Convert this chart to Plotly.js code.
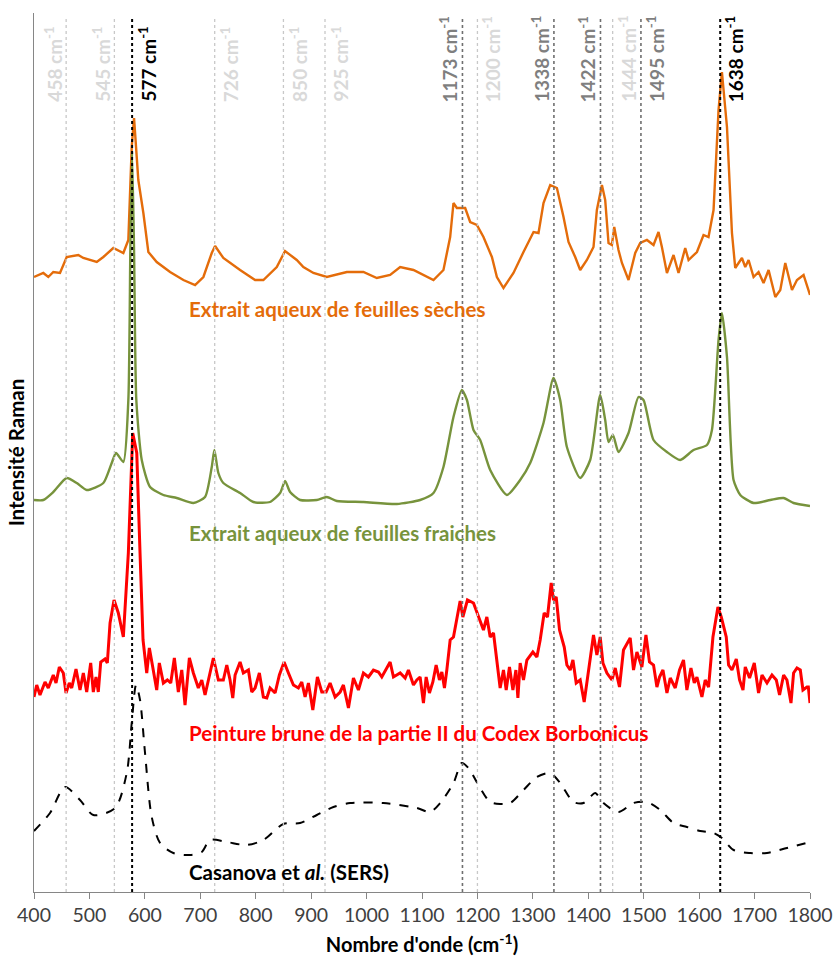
<!DOCTYPE html>
<html>
<head>
<meta charset="utf-8">
<script src="https://cdn.plot.ly/plotly-3.0.1.min.js"></script>
<style>html,body{margin:0;padding:0;background:#fff;}#chart{width:837px;height:962px;}</style>
</head>
<body>
<div id="chart"></div>
<script>
// Spectrum: aqueous extract of dried leaves (offset, arbitrary units)
var dryX = [400,416.8,425.8,434.8,446.9,459,479.9,489,513.2,525.1,543.1,561.2,570.2,576.3,580.5,588.2,597.3,606.3,621.4,645.5,669.5,690.6,705.6,720.7,726.7,741.6,771.8,798.9,813.8,838,852.9,874,886,904.1,928.3,964.4,994.3,1018.5,1042.5,1060.6,1084.6,1100,1120.7,1138.7,1150.8,1156.8,1162.9,1177.9,1186.9,1199,1210.9,1226.1,1235.1,1247,1265,1283.1,1301.2,1310.2,1319.2,1331.3,1343.4,1355.3,1364.3,1376.4,1385.4,1397.5,1409.4,1415.5,1424.6,1430.5,1436.5,1442.6,1446.8,1454.5,1460.7,1472.6,1484.7,1493.7,1505.8,1517.7,1526.7,1532.8,1541.9,1553.8,1562.8,1574.9,1580.9,1596,1607.9,1616.9,1626,1635,1641.1,1650.2,1659.2,1665.1,1677.2,1683.2,1689.2,1698.2,1707.2,1716.2,1725.3,1737.4,1746.4,1755.4,1767.5,1776.5,1788.4,1800];
var dryY = [615,619,615,620,619,635,637,634,630,635,644,639,652,745,774,712,679,640,630,620,612,607,615,639,646,634,622,612,612,625,641,632,625,619,615,620,620,614,617,625,622,618,612,622,655,689,684,684,670,667,655,635,615,604,619,640,660,659,689,707,704,675,650,635,622,632,645,682,707,692,649,647,665,642,629,612,639,649,652,647,660,645,619,637,619,644,632,640,657,655,682,782,820,765,659,624,634,625,632,615,620,609,622,595,602,629,602,612,617,597];

// Spectrum: aqueous extract of fresh leaves
var freshX = [400,416.8,434.8,459,477.1,495.1,525.1,540.2,548,561.2,570.2,573.8,576.9,580.5,584.6,594.4,609.4,633.4,657.5,687.5,708.6,720.7,725.4,732.6,741.6,771.8,795.8,825.9,844,853,862,880.1,910.2,928.3,946.3,994.3,1054.6,1096.6,1120.7,1138.7,1156.8,1171.9,1181,1192.9,1205,1223,1253.1,1277.1,1295.2,1319.2,1337.2,1349.3,1361.4,1385.4,1403.4,1421.5,1430.5,1436.5,1444.4,1454.5,1472.6,1490.6,1499.6,1517.7,1541.9,1565.9,1589.9,1614.1,1623.1,1635,1641.1,1650.2,1662.1,1674.2,1698.2,1728.3,1752.3,1770.4,1800];
var freshY = [392,392,400,414,409,402,409,429,439,430,492,642,740,642,492,432,405,397,394,389,395,425,442,419,409,399,390,390,399,411,400,392,392,395,391,390,388,392,399,425,475,502,492,462,452,422,397,412,429,469,514,492,445,414,432,497,472,450,457,440,459,495,492,452,440,432,442,447,462,552,579,535,412,397,389,392,394,389,386];

// Spectrum: brown paint, part II of the Codex Borbonicus
var codexX = [400,404.9,410.8,419.9,425.8,434.8,439.7,445.7,452.9,457.8,463.7,468,475.8,483,489,495.1,502.3,507,511.9,516,520.4,528.1,532.3,537.2,544.4,552.1,561.2,570.2,578.1,585.4,591.3,596.7,603.4,608.1,614.2,621.4,626.1,633.4,640.6,646.7,653.2,660.4,666.6,672.5,680.3,687.5,696.5,702.7,708.6,714.6,723.6,732.6,741.6,747.8,753.7,758.6,762.8,771.8,777.7,786.8,792.9,798.9,806.6,813.8,820,825.9,835,842.7,851.2,859,868,877,883.1,889.1,895.1,903,911.3,919.2,927,934.2,943.2,952.3,958.2,967.3,976.3,985.3,994.3,1003.3,1012.4,1021.4,1027.5,1042.5,1048.5,1060.6,1069.6,1075.5,1084.6,1090.7,1096.6,1102.6,1107.5,1113.4,1119.6,1125.5,1131.5,1135.8,1140.5,1144.8,1150.8,1156.8,1162.9,1168.8,1173.7,1182,1192.9,1201.9,1210.9,1217,1223,1229,1235.1,1241,1247,1251.9,1257.8,1264,1269.4,1273,1277.1,1283.1,1289.2,1300,1307.3,1313.2,1320.4,1326.4,1333.1,1337.2,1342.1,1348.1,1356.6,1361.4,1367.4,1372.3,1378.2,1385.4,1392.6,1400.4,1409.4,1415.5,1421.5,1426.4,1433.6,1442.6,1448.6,1456.3,1463.5,1475.6,1481.6,1487.7,1496.7,1504,1510.4,1517.7,1523.8,1528.5,1534.7,1541.9,1547.9,1556.9,1564.6,1571.8,1577.9,1585.2,1591.2,1596,1605,1611,1617,1624.9,1633.9,1639.9,1648.9,1653.1,1659.2,1667,1672.9,1679.1,1683.2,1691,1699.5,1707.2,1713.4,1722.4,1731.4,1739.2,1745.1,1752.4,1758.4,1765.7,1770.4,1776.5,1782.5,1787.3,1794.6,1797,1800];
var codexY = [195,207,197,210,204,217,209,225,219,199,209,204,223,202,219,200,229,200,215,200,230,233,229,269,292,279,255,339,459,439,339,252,219,244,225,202,229,209,212,209,234,200,222,187,234,219,204,212,197,212,234,212,212,227,212,194,217,230,219,222,200,204,219,195,194,204,199,217,230,219,207,204,210,195,209,182,215,200,200,209,195,200,207,184,214,202,219,215,222,220,215,230,215,219,214,222,207,212,215,189,215,199,210,227,212,220,204,222,252,255,272,291,275,292,289,275,262,275,255,259,229,204,222,202,225,202,222,194,229,212,232,240,235,252,279,275,309,292,295,262,245,227,222,232,209,212,190,219,257,237,255,229,219,212,224,205,242,254,222,240,225,257,230,227,205,215,222,199,214,204,222,232,202,224,209,215,195,212,205,255,285,275,255,227,222,233,212,202,225,214,229,199,217,209,217,212,197,217,212,189,219,224,222,202,205,205,189];

// Reference spectrum: Casanova et al. (SERS)
var sersX = [400,428.9,455.9,483,507,546.2,567.3,576.3,584.1,591.3,600.3,612.4,627.4,651.4,681.5,702.7,717.6,747.8,783.9,813.8,849.9,880.1,910.2,940.2,970.3,1030.4,1090.7,1114.7,1132.8,1156.8,1171.9,1183.8,1201.8,1223,1241,1259.1,1283.1,1307.3,1331.3,1349.3,1373.3,1391.4,1403.4,1412.5,1427.4,1454.5,1481.6,1505.8,1529.8,1553.8,1577.9,1602,1626,1641.1,1662.1,1692.2,1722.3,1758.4,1800];
var sersY = [61,79,105,92,77,84,119,169,207,192,139,75,49,39,37,40,52,50,47,52,68,69,77,85,89,89,84,80,89,109,129,124,107,90,88,89,102,115,119,109,90,89,95,99,89,80,89,90,82,69,65,61,59,54,42,39,39,44,50];

// Band markers (cm-1), emphasis level and label side
var bandPos   = [458, 545, 577, 726, 850, 925, 1173, 1200, 1338, 1422, 1444, 1495, 1638];
var bandLevel = ['light','light','strong','light','light','light','mid','light','mid','mid','light','mid','strong'];
var bandSide  = ['left','left','right','right','right','right','left','right','left','left','right','right','right'];

var seriesNames = ['Extrait aqueux de feuilles sèches','Extrait aqueux de feuilles fraiches','Peinture brune de la partie II du Codex Borbonicus','Casanova et <i>al.</i> (SERS)'];

var FONT = 'Lato, "Open Sans", sans-serif';
var levelStyle = {
  light:  {color:'#d9d9d9', line:'#c8c8c8', width:1.3},
  mid:    {color:'#7f7f7f', line:'#6f6f6f', width:1.6},
  strong: {color:'#000000', line:'#000000', width:2}
};

var traces = [
  {x: dryX, y: dryY, mode:'lines', line:{color:'#E46C0A', width:2.4}, name:seriesNames[0]},
  {x: freshX, y: freshY, mode:'lines', line:{color:'#77933C', width:2.4, shape:'spline', smoothing:0.6}, name:seriesNames[1]},
  {x: codexX, y: codexY, mode:'lines', line:{color:'#FF0000', width:3}, name:seriesNames[2]},
  {x: sersX, y: sersY, mode:'lines', line:{color:'#000000', width:2, dash:'dash', shape:'spline', smoothing:0.8}, name:seriesNames[3]}
];

var shapes = [];
var annotations = [];
bandPos.forEach(function(b, i){
  var st = levelStyle[bandLevel[i]];
  shapes.push({type:'line', xref:'x', yref:'paper', x0:b, x1:b, y0:0, y1:0.9954,
    line:{color:st.line, width:st.width, dash:'dot'}, layer:'above'});
  annotations.push({xref:'x', yref:'paper', x:b, y:0.8965, yanchor:'bottom', xanchor:'center',
    xshift: bandSide[i]==='right' ? 15 : -13, textangle:-90, showarrow:false,
    text: '<b>' + b + ' cm<sup>-1</sup></b>', font:{family:FONT, size:19, color:st.color}});
});

// Series labels (positioned in data space)
var labelY = [583, 359, 159, 20];
var labelColors = ['#E46C0A','#77933C','#FF0000','#000000'];
seriesNames.forEach(function(n, i){
  annotations.push({xref:'x', yref:'y', x:676, y:labelY[i], xanchor:'left', yanchor:'middle', showarrow:false,
    text:'<b>'+n+'</b>', font:{family:FONT, size:20.5, color:labelColors[i]}});
});

var layout = {
  width:837, height:962,
  margin:{l:34, r:27, t:13, b:70},
  paper_bgcolor:'#ffffff', plot_bgcolor:'#ffffff',
  showlegend:false,
  font:{family:FONT, color:'#404040'},
  xaxis:{range:[400,1800], dtick:100, tick0:400, ticks:'outside', ticklen:6, tickcolor:'#868686',
    showline:true, linecolor:'#868686', linewidth:1, showgrid:false, zeroline:false,
    tickfont:{family:FONT, size:19.5, color:'#404040'},
    title:{text:'<b>Nombre d\'onde (cm<sup>-1</sup>)</b>', font:{family:FONT, size:20, color:'#000'}, standoff:12}},
  yaxis:{range:[0,879], showline:true, linecolor:'#868686', linewidth:1, showgrid:false, zeroline:false,
    showticklabels:false, ticks:'',
    title:{text:'<b>Intensité Raman</b>', font:{family:FONT, size:20.5, color:'#000'}, standoff:2}},
  shapes:shapes,
  annotations:annotations
};

Plotly.newPlot('chart', traces, layout, {staticPlot:true});
</script>
</body>
</html>
